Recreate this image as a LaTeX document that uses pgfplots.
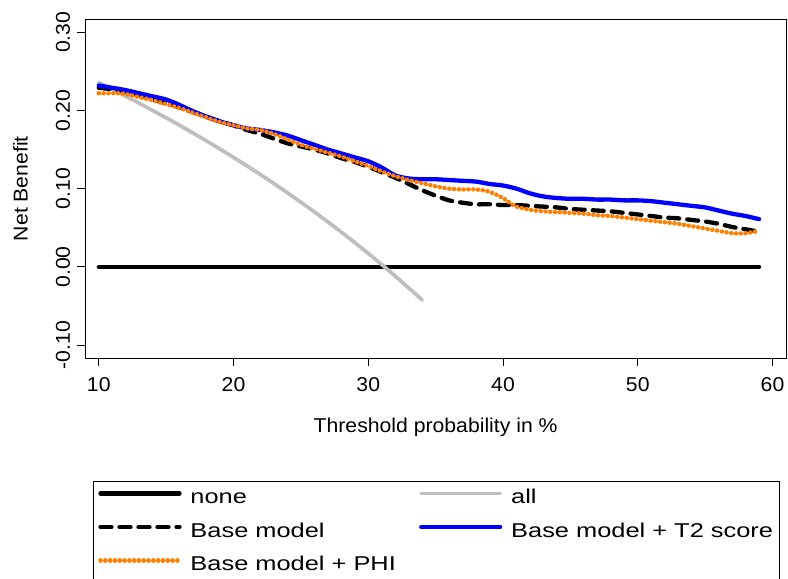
\documentclass[border=0pt]{standalone}
\usepackage{pgfplots}
\pgfplotsset{compat=1.18}
\usepackage{fontspec}
\setmainfont{Liberation Sans}[FakeStretch=1.06]
\newfontfamily\legfont{Liberation Sans}[FakeStretch=1.27]
\definecolor{dcaorange}{RGB}{255,128,0}
\definecolor{dcagray}{RGB}{190,190,190}
\definecolor{dcablue}{RGB}{0,0,255}

\begin{document}
\begin{tikzpicture}
\useasboundingbox (-85.3bp,-221bp) rectangle (702.7bp,358bp);
\begin{axis}[
  at={(0,0)}, anchor=south west,
  scale only axis, width=700.7bp, height=338.7bp,
  xmin=9, xmax=61, ymin=-0.1166, ymax=0.3166,
  axis line style={line width=1bp},
  tick style={line width=1bp, black},
  tick align=outside, major tick length=8bp,
  xtick pos=lower, ytick pos=left,
  xtick={10,20,30,40,50,60}, xticklabels={10,20,30,40,50,60},
  ytick={-0.1,0,0.1,0.2,0.3}, yticklabels={-0.10,0.00,0.10,0.20,0.30},
  font=\fontsize{20bp}{24bp}\selectfont,
  xticklabel style={yshift=-25bp, anchor=base, inner sep=0pt},
  yticklabel style={xshift=-7.3bp, rotate=90, anchor=base, inner sep=0pt},
  xlabel={Threshold probability in \%},
  xlabel style={at={(axis description cs:0.5,-0.2205)}, anchor=base, inner sep=0pt},
  ylabel={Net Benefit},
  ylabel style={at={(axis description cs:-0.0822,0.5)}, anchor=base, rotate=0, inner sep=0pt},
  legend columns=2,
  legend style={at={(axis description cs:0.01142,-0.3632)}, anchor=north west,
    draw=black, line width=1bp, inner sep=0pt, row sep=0pt, column sep=0pt,
    font={\fontsize{20bp}{24bp}\legfont},
    nodes={inner sep=0pt, anchor=base west, text height=22bp, text depth=11.5bp}},
  legend image code/.code={\path[draw=none,fill=none] (0bp,9bp) rectangle (96.7bp,11bp);
    \draw[#1] (6.7bp,10bp) -- (85.7bp,10bp);},
]
\addplot[black, line width=4.3bp, line cap=round] coordinates {(10,0) (59,0)};
\addlegendentry{\makebox[224bp][l]{none}}

\addplot[dcagray, line width=3.7bp, line cap=round, smooth] coordinates {
(10,0.2356) (11,0.2270) (12,0.2182) (13,0.2092) (14,0.2000) (15,0.1906)
(16,0.1810) (17,0.1711) (18,0.1610) (19,0.1506) (20,0.1400) (21,0.1291)
(22,0.1180) (23,0.1065) (24,0.0947) (25,0.0827) (26,0.0703) (27,0.0575)
(28,0.0444) (29,0.0310) (30,0.0171) (31,0.0029) (32,-0.0118) (33,-0.0269)
(34,-0.0424)};
\addlegendentry{\makebox[268bp][l]{all}}

\addplot[black, line width=4.3bp, line cap=round, dash pattern=on 11bp off 8bp, smooth] coordinates {
(10,0.229) (11,0.227) (12,0.223) (13,0.219) (14,0.214) (15,0.209) (16,0.204)
(17,0.198) (18,0.192) (19,0.186) (20,0.181) (21,0.175) (22,0.170) (23,0.164)
(24,0.158) (25,0.154) (26,0.150) (27,0.145) (28,0.139) (29,0.134) (30,0.128)
(31,0.121) (32,0.114) (33,0.106) (34,0.098) (35,0.091) (36,0.085) (37,0.082)
(38,0.080) (39,0.080) (40,0.079) (41,0.079) (42,0.078) (43,0.077) (44,0.076)
(45,0.074) (46,0.073) (47,0.072) (48,0.071) (49,0.069) (50,0.067) (51,0.065)
(52,0.063) (53,0.062) (54,0.060) (55,0.058) (56,0.055) (57,0.051) (58,0.048)
(59,0.045)};
\addlegendentry{\makebox[224bp][l]{Base model}}

\addplot[dcablue, line width=4.3bp, line cap=round, smooth] coordinates {
(10,0.232) (11,0.229) (12,0.226) (13,0.222) (14,0.218) (15,0.214) (16,0.207)
(17,0.199) (18,0.192) (19,0.186) (20,0.181) (21,0.177) (22,0.175) (23,0.172)
(24,0.168) (25,0.162) (26,0.156) (27,0.150) (28,0.145) (29,0.140) (30,0.135)
(31,0.127) (32,0.117) (33,0.113) (34,0.112) (35,0.112) (36,0.111) (37,0.110)
(38,0.109) (39,0.106) (40,0.104) (41,0.100) (42,0.094) (43,0.090) (44,0.088)
(45,0.087) (46,0.087) (47,0.086) (48,0.086) (49,0.085) (50,0.085) (51,0.084)
(52,0.082) (53,0.080) (54,0.078) (55,0.076) (56,0.072) (57,0.068) (58,0.065)
(59,0.061)};
\addlegendentry{\makebox[268bp][l]{Base model + T2 score}}

\addplot[dcaorange, line width=4.4bp, line cap=round, dash pattern=on 0.2bp off 4.6bp, smooth] coordinates {
(10,0.222) (11,0.222) (11.5,0.222) (12,0.221) (13,0.217) (14,0.213) (15,0.208)
(16,0.203) (17,0.197) (18,0.191) (19,0.185) (20,0.181) (21,0.177) (22,0.175)
(23,0.170) (24,0.163) (25,0.156) (26,0.151) (27,0.146) (28,0.141) (29,0.135)
(30,0.129) (31,0.122) (32,0.116) (33,0.111) (34,0.107) (35,0.103) (36,0.100)
(37,0.099) (38,0.099) (39,0.096) (40,0.088) (40.5,0.082) (41,0.077) (42,0.073)
(43,0.071) (44,0.070) (45,0.069) (46,0.068) (47,0.066) (48,0.065) (49,0.063)
(50,0.061) (51,0.059) (52,0.057) (53,0.055) (54,0.052) (55,0.049) (56,0.046)
(57,0.043) (58,0.043) (59,0.046)};
\addlegendentry{\makebox[224bp][l]{Base model + PHI}}
\end{axis}
\end{tikzpicture}
\end{document}
